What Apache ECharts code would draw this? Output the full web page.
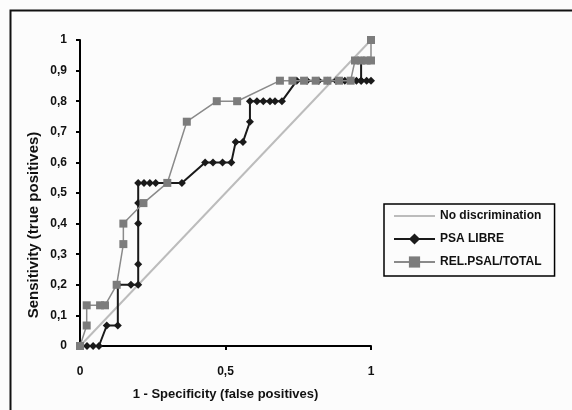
<!DOCTYPE html>
<html>
<head>
<meta charset="utf-8">
<script src="https://cdn.jsdelivr.net/npm/echarts@6/dist/echarts.min.js"></script>
<style>
  html, body { margin: 0; padding: 0; background: #fcfcfc; }
  #main { width: 572px; height: 410px; }
</style>
</head>
<body>
<div id="main"></div>
<script>
// ROC curves, values
var diagonal = [[0, 0], [1, 1]];

var psaLibre = [
  [0, 0], [0.024, 0], [0.045, 0], [0.065, 0], [0.092, 0.067], [0.13, 0.067],
  [0.13, 0.2], [0.175, 0.2], [0.2, 0.2], [0.2, 0.267], [0.2, 0.4], [0.2, 0.467],
  [0.2, 0.533], [0.22, 0.533], [0.24, 0.533], [0.26, 0.533], [0.35, 0.533],
  [0.43, 0.6], [0.457, 0.6], [0.49, 0.6], [0.52, 0.6], [0.535, 0.667], [0.56, 0.667],
  [0.584, 0.733], [0.584, 0.8], [0.608, 0.8], [0.63, 0.8], [0.653, 0.8], [0.67, 0.8],
  [0.694, 0.8], [0.745, 0.867], [0.78, 0.867], [0.82, 0.867], [0.85, 0.867],
  [0.88, 0.867], [0.91, 0.867], [0.95, 0.867], [0.966, 0.867], [0.966, 0.933],
  [0.966, 0.867], [0.985, 0.867], [1, 0.867]
];

var relPsal = [
  [0, 0], [0.023, 0.067], [0.023, 0.133], [0.069, 0.133], [0.086, 0.133],
  [0.126, 0.2], [0.149, 0.333], [0.149, 0.4], [0.218, 0.467], [0.30, 0.533],
  [0.367, 0.733], [0.47, 0.8], [0.54, 0.8], [0.687, 0.867], [0.73, 0.867],
  [0.77, 0.867], [0.81, 0.867], [0.85, 0.867], [0.89, 0.867], [0.93, 0.867],
  [0.945, 0.933], [0.965, 0.933], [0.985, 0.933], [1, 0.933], [1, 1]
];

var seriesNames = ["No discrimination", "PSA LIBRE", "REL.PSAL/TOTAL"];
var font = "'Liberation Sans', Arial, sans-serif";

var myChart = echarts.init(document.getElementById("main"));

var option = {
  backgroundColor: "#fcfcfc",
  animation: false,
  textStyle: { fontFamily: font },
  grid: { left: 80, right: 201, top: 40, bottom: 64 },
  legend: {
    orient: "vertical",
    left: 384,
    top: 204,
    padding: [6, 13, 8, 9],
    itemWidth: 41,
    itemHeight: 14,
    itemGap: 11,
    borderColor: "#000",
    borderWidth: 1.5,
    data: [
      // plain line, no marker
      { name: seriesNames[0], icon: "path://M0,0L40,0L40,2L0,2Z" },
      seriesNames[1],
      seriesNames[2]
    ],
    textStyle: { fontFamily: font, fontWeight: "bold", fontSize: 12, color: "#111" }
  },
  xAxis: {
    type: "value",
    min: 0,
    max: 1,
    interval: 0.5,
    name: "1 - Specificity (false positives)",
    nameLocation: "middle",
    nameGap: 42,
    nameTextStyle: { fontFamily: font, fontWeight: "bold", fontSize: 13, color: "#111" },
    axisLine: { lineStyle: { color: "#000", width: 2 } },
    axisTick: { show: true, length: 4, lineStyle: { color: "#000", width: 2 } },
    splitLine: { show: false },
    axisLabel: {
      margin: 20,
      fontFamily: font,
      fontWeight: "bold",
      fontSize: 12,
      color: "#111",
      formatter: function (v) { return String(v).replace(".", ","); }
    }
  },
  yAxis: {
    type: "value",
    min: 0,
    max: 1,
    interval: 0.1,
    axisLine: { show: true, lineStyle: { color: "#000", width: 2 } },
    axisTick: { show: true, length: 4, lineStyle: { color: "#000", width: 2 } },
    splitLine: { show: false },
    axisLabel: {
      margin: 13,
      fontFamily: font,
      fontWeight: "bold",
      fontSize: 12,
      color: "#111",
      formatter: function (v) { return String(+v.toFixed(1)).replace(".", ","); }
    }
  },
  graphic: [
    {
      type: "rect",
      left: 8,
      top: 8,
      shape: { width: 620, height: 460 },
      style: { fill: "none", stroke: "#111", lineWidth: 2 },
      silent: true
    },
    {
      type: "text",
      x: 34,
      y: 225,
      rotation: Math.PI / 2,
      style: {
        text: "Sensitivity (true positives)",
        font: "bold 15px " + font,
        fill: "#111",
        align: "center",
        verticalAlign: "middle"
      }
    }
  ],
  series: [
    {
      name: seriesNames[0],
      type: "line",
      data: diagonal,
      symbol: "none",
      lineStyle: { color: "#bcbcbc", width: 2 },
      itemStyle: { color: "#bcbcbc" },
      z: 2
    },
    {
      name: seriesNames[1],
      type: "line",
      data: psaLibre,
      symbol: "diamond",
      symbolSize: 8,
      lineStyle: { color: "#1a1a1a", width: 2 },
      itemStyle: { color: "#1a1a1a" },
      z: 3
    },
    {
      name: seriesNames[2],
      type: "line",
      data: relPsal,
      symbol: "rect",
      symbolSize: 8,
      lineStyle: { color: "#8a8a8a", width: 1.5 },
      itemStyle: { color: "#7c7c7c" },
      z: 4
    }
  ]
};

myChart.setOption(option);
</script>
</body>
</html>
